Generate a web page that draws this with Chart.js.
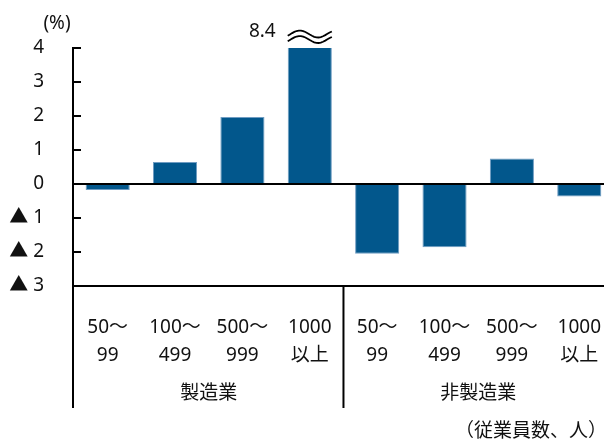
<!DOCTYPE html>
<html>
<head>
<meta charset="utf-8">
<script src="https://cdn.jsdelivr.net/npm/chart.js@4"></script>
<style>
  body { margin: 0; overflow: hidden; background: #fff; }
</style>
</head>
<body>
<canvas id="grafico" width="621" height="443"></canvas>
<script>
// categorias (faixas de empregados), duas linhas por rótulo
const categories = [
  ["50～", "99"], ["100～", "499"], ["500～", "999"], ["1000", "以上"],
  ["50～", "99"], ["100～", "499"], ["500～", "999"], ["1000", "以上"],
];
const values = [-0.18, 0.65, 1.97, 8.4, -2.05, -1.86, 0.75, -0.37];
const groups = ["製造業", "非製造業"];
const yTicks = [-3, -2, -1, 0, 1, 2, 3, 4];
const yUnit = "(%)";
const xNote = "（従業員数、人）";

const FONT = "'Noto Sans', 'Noto Sans CJK JP', sans-serif";
const INK = "#111";

// desenha eixos, linha do zero, separador, grupos e o símbolo de quebra
const extras = {
  id: "extras",
  afterDatasetsDraw(chart) {
    const ctx = chart.ctx;
    const area = chart.chartArea;
    const x = chart.scales.x;
    const y = chart.scales.y;
    const W = chart.width;
    const bottomLine = 408;

    ctx.save();
    ctx.strokeStyle = "#000";
    ctx.lineWidth = 2;

    // linha do zero e linha de baixo
    [y.getPixelForValue(0), area.bottom].forEach((py) => {
      ctx.beginPath();
      ctx.moveTo(area.left - 2, py);
      ctx.lineTo(W, py);
      ctx.stroke();
    });

    // eixo y
    const ax = area.left - 1;
    ctx.beginPath();
    ctx.moveTo(ax, area.top - 1);
    ctx.lineTo(ax, bottomLine);
    ctx.stroke();

    // marcas do eixo y (para dentro)
    yTicks.forEach((v) => {
      const py = y.getPixelForValue(v);
      ctx.beginPath();
      ctx.moveTo(ax, py);
      ctx.lineTo(ax + 8, py);
      ctx.stroke();
    });

    // separador entre grupos
    const sep = (x.getPixelForTick(3) + x.getPixelForTick(4)) / 2;
    ctx.beginPath();
    ctx.moveTo(sep, area.bottom);
    ctx.lineTo(sep, bottomLine);
    ctx.stroke();

    // textos
    ctx.fillStyle = INK;
    ctx.textBaseline = "middle";
    ctx.font = "19px " + FONT;
    ctx.textAlign = "center";
    groups.forEach((g, i) => {
      const cx = (x.getPixelForTick(i * 4) + x.getPixelForTick(i * 4 + 3)) / 2;
      ctx.fillText(g, cx, 394);
    });
    ctx.fillText(yUnit, 57, 24);
    ctx.textAlign = "right";
    ctx.fillText(xNote, 607, 432);

    // valor acima do limite e símbolo de quebra
    values.forEach((v, i) => {
      if (v <= y.max) return;
      const bar = chart.getDatasetMeta(0).data[i];
      const half = bar.width / 2;
      ctx.textAlign = "right";
      ctx.fillText(v.toFixed(1), bar.x - half - 12, 32);
      ctx.lineWidth = 1.8;
      [34, 39.5].forEach((yb) => {
        ctx.beginPath();
        for (let t = 0; t <= 1.0001; t += 0.05) {
          const px = bar.x - half + t * bar.width;
          const py = yb - 3.5 * Math.sin(-0.5 + t * 7.6);
          if (t === 0) ctx.moveTo(px, py);
          else ctx.lineTo(px, py);
        }
        ctx.stroke();
      });
    });
    ctx.restore();
  },
};

new Chart(document.getElementById("grafico"), {
  type: "bar",
  data: {
    labels: categories,
    datasets: [
      {
        data: values,
        backgroundColor: "#02578c",
        borderColor: "#6f9cc2",
        borderWidth: 1,
        barPercentage: 0.655,
        categoryPercentage: 1,
      },
    ],
  },
  options: {
    responsive: false,
    animation: false,
    layout: { padding: { top: 48, right: 0, left: 0, bottom: 0 } },
    plugins: {
      legend: { display: false },
      tooltip: { enabled: false },
    },
    scales: {
      x: {
        grid: { display: false },
        border: { display: false },
        ticks: {
          color: INK,
          padding: 20,
          maxRotation: 0,
          autoSkip: false,
          font: { family: FONT, size: 19, lineHeight: 28 / 19 },
        },
        afterFit: (s) => { s.height = 157; },
      },
      y: {
        min: -3,
        max: 4,
        grid: { display: false },
        border: { display: false },
        ticks: {
          stepSize: 1,
          color: INK,
          padding: 22,
          font: { family: FONT, size: 19 },
          callback: (v) => (v < 0 ? "▲ " + Math.abs(v) : String(v)),
        },
        afterFit: (s) => { s.width = 74; },
      },
    },
  },
  plugins: [extras],
});
</script>
</body>
</html>
